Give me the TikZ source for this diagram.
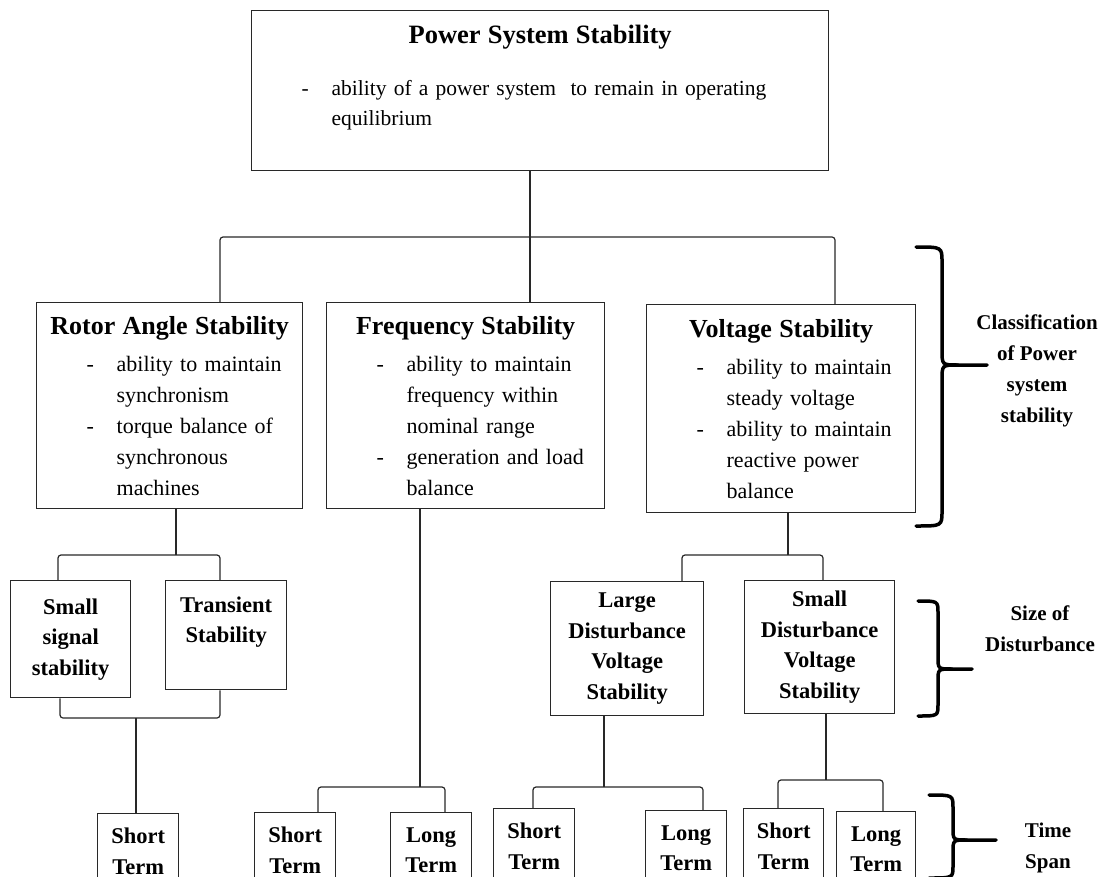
\documentclass[tikz,border=0pt]{standalone}
\usepackage{fontspec}
\setmainfont{Liberation Serif}
\usepackage{xcolor}
\definecolor{lineclr}{RGB}{40,40,40}

\newcommand{\headtext}[1]{\makebox[\linewidth]{\fontsize{26}{31}\selectfont\bfseries #1}}
\newcommand{\dashline}[1]{\hspace*{50pt}\makebox[30pt][l]{-}#1}
\newcommand{\moreline}[1]{\hspace*{80pt}#1}

\tikzset{
  box/.style={draw=lineclr, line width=1.3pt, inner sep=0pt, align=left,
    anchor=north west, font=\fontsize{22}{31}\selectfont},
  subbox/.style={draw=lineclr, line width=1.3pt, inner sep=0pt, align=center,
    anchor=north west, font=\fontsize{22.5}{30.5}\selectfont\bfseries},
  link/.style={draw=lineclr, line width=1.2pt, rounded corners=3pt},
  bracket/.style={line width=3.5pt, line cap=round},
  sidelabel/.style={align=center, font=\fontsize{21}{31}\selectfont\bfseries}
}

\begin{document}
\begin{tikzpicture}[x=1pt, y=-1pt]
  \useasboundingbox (0,0) rectangle (1107,877);
  \clip (0,0) rectangle (1107,877);

  % root
  \node[box, text width=577pt, minimum width=577pt, minimum height=160pt,
        font=\fontsize{21.5}{30}\selectfont] (pss) at (251,10)
    {\makebox[\linewidth]{\fontsize{26.5}{30}\selectfont\bfseries Power System Stability}\\[22pt]
     \dashline{ability of a power system~ to remain in operating}\\
     \moreline{equilibrium}\\ \mbox{}};

  % the three classes
  \node[box, text width=266pt, minimum width=266pt, minimum height=206pt] (ras) at (36,302)
    {\headtext{Rotor Angle Stability}\\[6pt]
     \dashline{ability to maintain}\\ \moreline{synchronism}\\
     \dashline{torque balance of}\\ \moreline{synchronous}\\ \moreline{machines}};
  \node[box, text width=278pt, minimum width=278pt, minimum height=206pt] (fs) at (326,302)
    {\headtext{Frequency Stability}\\[6pt]
     \dashline{ability to maintain}\\ \moreline{frequency within}\\
     \moreline{nominal range}\\ \dashline{generation and load}\\ \moreline{balance}};
  \node[box, text width=269pt, minimum width=269pt, minimum height=208pt] (vs) at (646,304)
    {\headtext{Voltage Stability}\\[6pt]
     \dashline{ability to maintain}\\ \moreline{steady voltage}\\
     \dashline{ability to maintain}\\ \moreline{reactive power}\\ \moreline{balance}};

  % size of disturbance
  \node[subbox, minimum width=120pt, minimum height=117pt] (ss) at (10,580) {Small\\signal\\stability};
  \node[subbox, minimum width=121pt, minimum height=109pt] (tr) at (165,580) {Transient\\Stability\\\mbox{}};
  \node[subbox, minimum width=153pt, minimum height=134pt] (ld) at (550,581) {Large\\Disturbance\\Voltage\\Stability};
  \node[subbox, minimum width=150pt, minimum height=133pt] (sd) at (744,580) {Small\\Disturbance\\Voltage\\Stability};

  % time span
  \node[subbox, minimum width=81pt, minimum height=75pt] (st1) at (97,813) {Short\\Term};
  \node[subbox, minimum width=81pt, minimum height=75pt] (st2) at (254,812) {Short\\Term};
  \node[subbox, minimum width=81pt, minimum height=75pt] (lt2) at (390,812) {Long\\Term};
  \node[subbox, minimum width=81pt, minimum height=75pt] (st3) at (493,808) {Short\\Term};
  \node[subbox, minimum width=81pt, minimum height=75pt] (lt3) at (645,810) {Long\\Term};
  \node[subbox, minimum width=80pt, minimum height=75pt] (st4) at (743,808) {Short\\Term};
  \node[subbox, minimum width=79pt, minimum height=75pt] (lt4) at (836,811) {Long\\Term};

  % junction points
  \coordinate (busM) at (530,237);
  \coordinate (busA) at (220,237);
  \coordinate (busB) at (835,237);
  \coordinate (ra1) at (176,555);
  \coordinate (raL) at (58,555);
  \coordinate (raR) at (220,555);
  \coordinate (rb1) at (136,718);
  \coordinate (rbL) at (60,718);
  \coordinate (rbR) at (220,718);
  \coordinate (fb1) at (420,787);
  \coordinate (fbL) at (318,787);
  \coordinate (fbR) at (445,787);
  \coordinate (va1) at (788,555);
  \coordinate (vaL) at (682,555);
  \coordinate (vaR) at (823,555);
  \coordinate (lb1) at (604,787);
  \coordinate (lbL) at (533,787);
  \coordinate (lbR) at (703,787);
  \coordinate (sb1) at (826,780);
  \coordinate (sbL) at (778,780);
  \coordinate (sbR) at (883,780);

  % connectors
  \draw[link] (busM |- pss.south) -- (busM |- fs.north);
  \draw[link] (busA |- ras.north) -- (busA) -- (busB) -- (busB |- vs.north);

  \draw[link] (ra1 |- ras.south) -- (ra1);
  \draw[link] (raL |- ss.north) -- (raL) -- (raR) -- (raR |- tr.north);
  \draw[link] (rbL |- ss.south) -- (rbL) -- (rbR) -- (rbR |- tr.south);
  \draw[link] (rb1) -- (rb1 |- st1.north);

  \draw[link] (fb1 |- fs.south) -- (fb1);
  \draw[link] (fbL |- st2.north) -- (fbL) -- (fbR) -- (fbR |- lt2.north);

  \draw[link] (va1 |- vs.south) -- (va1);
  \draw[link] (vaL |- ld.north) -- (vaL) -- (vaR) -- (vaR |- sd.north);
  \draw[link] (lb1 |- ld.south) -- (lb1);
  \draw[link] (lbL |- st3.north) -- (lbL) -- (lbR) -- (lbR |- lt3.north);
  \draw[link] (sb1 |- sd.south) -- (sb1);
  \draw[link] (sbL |- st4.north) -- (sbL) -- (sbR) -- (sbR |- lt4.north);

  % brackets and their labels
  \draw[bracket] (916,247) .. controls (942,247) .. (942,262) -- (942,350)
    .. controls (942,365) .. (958,365) -- (987,365);
  \draw[bracket] (958,365) .. controls (942,365) .. (942,380) -- (942,511)
    .. controls (942,526) .. (916,526);
  \node[sidelabel] (cls) at (1037,371) {Classification\\of Power\\system\\stability};

  \draw[bracket] (918,601) .. controls (938,601) .. (938,613) -- (938,657)
    .. controls (938,669) .. (952,669) -- (972,669);
  \draw[bracket] (952,669) .. controls (938,669) .. (938,681) -- (938,704)
    .. controls (938,716) .. (918,716);
  \node[sidelabel] (sod) at (1040,629) {Size of\\Disturbance};

  \draw[bracket] (929,795) .. controls (953,795) .. (953,808) -- (953,828)
    .. controls (953,840) .. (967,840) -- (996,840);
  \draw[bracket] (967,840) .. controls (953,840) .. (953,852) -- (953,866)
    .. controls (953,878) .. (929,878);
  \node[sidelabel] (tsp) at (1048,848) {Time\\Span};
\end{tikzpicture}
\end{document}
